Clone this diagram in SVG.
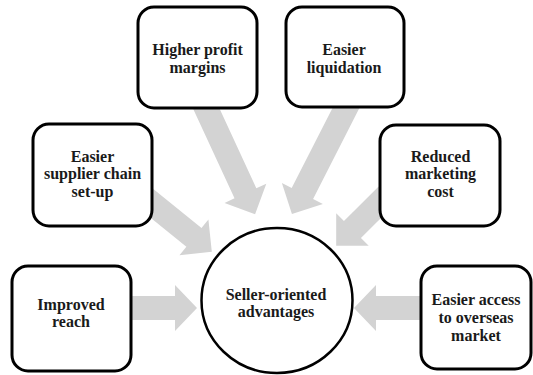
<svg xmlns="http://www.w3.org/2000/svg" width="533" height="375" viewBox="0 0 533 375">
<style>
.arr{fill:#d3d3d3;stroke:none}
.box{fill:#fff;stroke:#000;stroke-width:3}
.lbl{font-family:"Liberation Serif","Times New Roman",serif;font-weight:bold;font-size:16px;fill:#1a1a1a;text-anchor:middle}
</style>
<rect width="533" height="375" fill="#fff"/>
<g id="connectors">
<path class="arr" transform="translate(131,308)" d="M0,-12H44V-23L66,0L44,23V12H0Z"/>
<path class="arr" transform="translate(421,308) rotate(180)" d="M0,-12H45V-23L67,0L45,23V12H0Z"/>
<path class="arr" transform="translate(201.8,98.9) rotate(65.2)" d="M0,-12H104V-23L127,0L104,23V12H0Z"/>
<path class="arr" transform="translate(350.5,99.1) rotate(117)" d="M0,-12H106V-23L129,0L106,23V12H0Z"/>
<path class="arr" transform="translate(144.2,197.1) rotate(39)" d="M0,-12H64V-23L87,0L64,23V12H0Z"/>
<path class="arr" transform="translate(387.1,194.9) rotate(135)" d="M0,-12H49V-23L72,0L49,23V12H0Z"/>
</g>
<g id="higher-profit">
<rect class="box" x="138" y="7" width="119" height="101" rx="16"/>
<text class="lbl" x="197.5" y="55">Higher profit</text>
<text class="lbl" x="197.5" y="73">margins</text>
</g>
<g id="easier-liquidation">
<rect class="box" x="286" y="7" width="118" height="100" rx="16"/>
<text class="lbl" x="344" y="55">Easier</text>
<text class="lbl" x="344" y="73">liquidation</text>
</g>
<g id="supplier-chain">
<rect class="box" x="33" y="124" width="119" height="102" rx="16"/>
<text class="lbl" x="92.5" y="162">Easier</text>
<text class="lbl" x="92.5" y="179">supplier chain</text>
<text class="lbl" x="92.5" y="196.5">set-up</text>
</g>
<g id="reduced-marketing">
<rect class="box" x="380" y="125" width="120" height="101" rx="16"/>
<text class="lbl" x="440.5" y="162">Reduced</text>
<text class="lbl" x="440.5" y="179">marketing</text>
<text class="lbl" x="440.5" y="196.5">cost</text>
</g>
<g id="improved-reach">
<rect class="box" x="12" y="266" width="119" height="105" rx="16"/>
<text class="lbl" x="71" y="309.5">Improved</text>
<text class="lbl" x="71" y="327">reach</text>
</g>
<g id="overseas-market">
<rect class="box" x="421" y="266" width="110" height="103" rx="16"/>
<text class="lbl" x="476" y="305">Easier access</text>
<text class="lbl" x="476" y="323">to overseas</text>
<text class="lbl" x="476" y="341">market</text>
</g>
<g id="seller-oriented">
<ellipse cx="277" cy="300.5" rx="75.5" ry="72.5" fill="#fff" stroke="#000" stroke-width="2.5"/>
<text class="lbl" x="276" y="299.5">Seller-oriented</text>
<text class="lbl" x="276" y="317">advantages</text>
</g>
</svg>
